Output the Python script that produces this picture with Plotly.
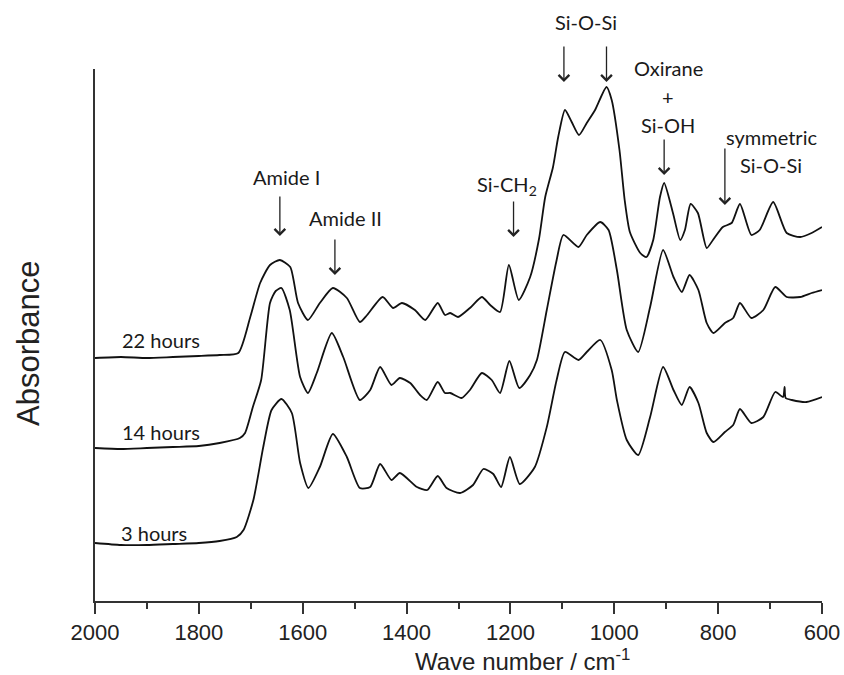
import plotly.graph_objects as go

# ---------------- data ----------------
wn_22h = [2000, 1950, 1900, 1850, 1800, 1760, 1724, 1701, 1682, 1663, 1644, 1624, 1609, 1590,
          1567, 1542, 1515, 1490, 1476, 1446, 1426, 1409, 1384, 1364, 1340, 1326, 1316, 1301,
          1278, 1255, 1239, 1220, 1203, 1184, 1162, 1145, 1133, 1118, 1108, 1095, 1082, 1068,
          1053, 1037, 1015, 1005, 990, 980, 970, 950, 938, 925, 912, 904, 887, 873, 864, 853,
          839, 822, 810, 791, 774, 758, 736, 720, 694, 668, 642, 620, 600]
ab_22h = [2.43, 2.44, 2.43, 2.44, 2.45, 2.46, 2.48, 2.84, 3.18, 3.36, 3.41, 3.34, 2.98, 2.81,
          2.98, 3.13, 3.03, 2.79, 2.86, 3.04, 2.93, 2.98, 2.91, 2.81, 2.98, 2.86, 2.88, 2.84,
          2.93, 3.04, 2.96, 2.89, 3.36, 3.01, 3.24, 3.62, 4.04, 4.34, 4.64, 4.91, 4.79, 4.66,
          4.78, 4.91, 5.14, 5.01, 4.51, 4.01, 3.69, 3.48, 3.44, 3.61, 4.04, 4.18, 3.88, 3.61,
          3.71, 3.97, 3.88, 3.53, 3.61, 3.74, 3.78, 3.97, 3.66, 3.71, 3.99, 3.68, 3.64, 3.68, 3.74]

wn_14h = [2000, 1950, 1900, 1850, 1800, 1760, 1721, 1711, 1696, 1680, 1663, 1652, 1641, 1625,
          1605, 1590, 1573, 1544, 1522, 1490, 1470, 1451, 1429, 1413, 1393, 1374, 1361, 1340,
          1326, 1316, 1294, 1278, 1255, 1236, 1220, 1202, 1183, 1162, 1149, 1130, 1111, 1098,
          1069, 1053, 1027, 1011, 995, 976, 954, 931, 906, 886, 870, 855, 838, 822, 809, 787,
          771, 758, 736, 713, 690, 668, 642, 620, 600]
ab_14h = [1.53, 1.52, 1.53, 1.54, 1.55, 1.58, 1.63, 1.68, 1.94, 2.21, 2.98, 3.10, 3.13, 2.91,
          2.24, 2.08, 2.28, 2.68, 2.44, 2.01, 2.11, 2.34, 2.16, 2.23, 2.18, 2.06, 2.01, 2.19,
          2.08, 2.08, 2.03, 2.11, 2.28, 2.21, 2.08, 2.40, 2.13, 2.26, 2.41, 2.91, 3.41, 3.66,
          3.54, 3.66, 3.79, 3.71, 3.31, 2.71, 2.49, 2.94, 3.51, 3.24, 3.09, 3.26, 3.11, 2.78,
          2.68, 2.78, 2.83, 2.98, 2.83, 2.91, 3.14, 3.04, 3.04, 3.08, 3.11]

wn_3h = [2000, 1950, 1900, 1850, 1800, 1760, 1727, 1714, 1695, 1676, 1660, 1641, 1621, 1605,
         1589, 1567, 1542, 1515, 1490, 1470, 1451, 1429, 1413, 1380, 1360, 1340, 1323, 1297,
         1272, 1252, 1233, 1218, 1201, 1182, 1153, 1130, 1111, 1095, 1069, 1053, 1027, 1005,
         995, 976, 954, 931, 906, 886, 870, 855, 838, 822, 809, 787, 771, 758, 736, 713, 690,
         675, 672, 670, 658, 630, 600]
ab_3h = [0.58, 0.56, 0.56, 0.57, 0.58, 0.60, 0.64, 0.71, 1.01, 1.54, 1.91, 2.02, 1.88, 1.38,
         1.13, 1.34, 1.67, 1.44, 1.13, 1.14, 1.37, 1.21, 1.28, 1.14, 1.11, 1.25, 1.13, 1.08,
         1.16, 1.32, 1.27, 1.14, 1.44, 1.17, 1.34, 1.74, 2.21, 2.49, 2.41, 2.49, 2.61, 2.31,
         2.01, 1.61, 1.46, 1.84, 2.34, 2.11, 1.96, 2.14, 1.98, 1.68, 1.59, 1.69, 1.76, 1.92,
         1.78, 1.84, 2.09, 2.04, 2.14, 2.03, 2.01, 1.99, 2.04]

series_names = ["22 hours", "14 hours", "3 hours"]
x_ticks = [2000, 1800, 1600, 1400, 1200, 1000, 800, 600]
x_tick_labels = ["2000", "1800", "1600", "1400", "1200", "1000", "800", "600"]

# ---------------- figure ----------------
W, H = 844, 675
L, R, T, B = 95, 22, 69, 74
PW, PH = W - L - R, H - T - B

def px(xp):
    return (xp - L) / PW

def py(yp):
    return (H - B - yp) / PH

fig = go.Figure()
for wn, ab, name in [(wn_22h, ab_22h, series_names[0]),
                     (wn_14h, ab_14h, series_names[1]),
                     (wn_3h, ab_3h, series_names[2])]:
    fig.add_trace(go.Scatter(x=wn, y=ab, mode="lines", name=name,
                             line=dict(color="#111111", width=1.8, shape="spline", smoothing=0.6),
                             showlegend=False, hoverinfo="skip"))

lab_font = dict(family="Lato, Carlito, 'Open Sans', sans-serif", size=20, color="#1a1a1a")
ann = []

def text(t, xpix, ypix, size=20):
    f = dict(lab_font)
    f["size"] = size
    ann.append(dict(text=t, x=px(xpix), y=py(ypix), xref="paper", yref="paper",
                    showarrow=False, xanchor="center", yanchor="middle", font=f))

def arrow(wn, tail_pix, tip_pix):
    ann.append(dict(text="", x=wn, y=py(tip_pix), xref="x", yref="paper",
                    ax=0, ay=-(tip_pix - tail_pix), showarrow=True,
                    arrowhead=4, arrowsize=1.6, arrowwidth=1.3, arrowcolor="#222222"))

text("Amide I", 286, 177)
text("Amide II", 345, 218)
text("Si-CH<sub>2</sub>", 507, 185)
text("Si-O-Si", 586, 22)
text("Oxirane", 668, 68)
text("+", 668, 97)
text("Si-OH", 668, 125)
text("symmetric", 771, 137)
text("Si-O-Si", 771, 165)
text(series_names[0], 161, 340)
text(series_names[1], 161, 432)
text(series_names[2], 154, 533)

arrow(1644, 195, 236)
arrow(1538, 238, 275)
arrow(1194, 200, 237)
arrow(1097, 45, 82)
arrow(1015, 45, 82)
arrow(904, 138, 175)
arrow(787, 147, 205)

ann.append(dict(text="Absorbance", x=px(28), y=py(344), xref="paper", yref="paper",
                showarrow=False, textangle=-90, xanchor="center", yanchor="middle",
                font=dict(family="Liberation Sans, Arial, sans-serif", size=31, color="#222222")))
ann.append(dict(text="Wave number / cm<sup>-1</sup>", x=px(522), y=py(660), xref="paper", yref="paper",
                showarrow=False, xanchor="center", yanchor="middle",
                font=dict(family="Liberation Sans, Arial, sans-serif", size=24, color="#222222")))

fig.update_layout(
    width=W, height=H, margin=dict(l=L, r=R, t=T, b=B, autoexpand=False),
    paper_bgcolor="white", plot_bgcolor="white",
    annotations=ann, showlegend=False,
)
fig.update_xaxes(range=[2000, 600], tickvals=x_ticks, ticktext=x_tick_labels,
                 ticks="outside", ticklen=11, tickwidth=1.5, tickcolor="#333333",
                 showline=True, linewidth=1.6, linecolor="#333333",
                 showgrid=False, zeroline=False, ticklabelstandoff=0, automargin=False,
                 tickfont=dict(family="Liberation Sans, Arial, sans-serif", size=22, color="#222222"),
                 minor=dict(dtick=100, tick0=0, ticks="outside", ticklen=6, tickwidth=1.5,
                            tickcolor="#333333", showgrid=False))
fig.update_yaxes(range=[0, 5.32], showline=True, linewidth=1.6, linecolor="#333333",
                 ticks="", showticklabels=False, showgrid=False, zeroline=False, automargin=False)

fig.write_html("out.html", config={"displayModeBar": False},
               post_script="document.body.style.margin='0';document.body.style.overflow='hidden';")
